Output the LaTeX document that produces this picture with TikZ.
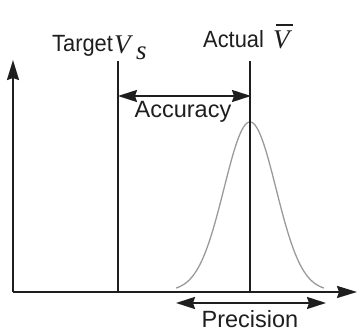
\documentclass[tikz,border=0pt]{standalone}
\usepackage{fontspec}
\setmainfont{Liberation Sans}
\newfontfamily\vfont{Liberation Serif}
\usetikzlibrary{arrows.meta}
\definecolor{ink}{HTML}{1E1E1E}
\definecolor{curvegray}{HTML}{9A9A9A}
\begin{document}
\begin{tikzpicture}[x=1pt,y=1pt,
  axisline/.style={draw=ink,line width=2pt},
  headtip/.style={-{Stealth[length=20pt,width=12pt,inset=2pt]}},
  twohead/.style={{Stealth[length=19pt,width=12pt,inset=2pt]}-{Stealth[length=19pt,width=12pt,inset=2pt]}},
  lbl/.style={inner sep=0pt,text=ink,font=\fontsize{23.5}{26}\selectfont},
  vlbl/.style={inner sep=0pt,text=ink,font=\vfont\itshape\fontsize{27}{30}\selectfont}]
\useasboundingbox (0,0) rectangle (357,328);
% coordinates
\coordinate (O) at (13,36);
\coordinate (Ytop) at (13,268);
\coordinate (Xend) at (357,36);
\coordinate (Tt) at (118,267);
\coordinate (Tb) at (118,36);
\coordinate (At) at (250,267);
\coordinate (Ab) at (250,36);
\coordinate (AccL) at (118,232);
\coordinate (AccR) at (251,232);
\coordinate (PreL) at (176,25);
\coordinate (PreR) at (326,25);
% gaussian
\draw[curvegray,line width=1.3pt,domain=-74:74,samples=120,smooth]
  plot (\x+250,{37+169*exp(-(\x*\x)/(2*26*26))});
% axes
\draw[axisline,headtip] (O) -- (Ytop);
\draw[axisline,headtip] (O) -- (Xend);
% vertical lines
\draw[axisline] (Tb) -- (Tt);
\draw[axisline] (Ab) -- (At);
% arrows
\draw[axisline,twohead] (AccL) -- (AccR);
\draw[axisline,twohead] (PreL) -- (PreR);
% labels
\node[lbl,anchor=base west] (tgt) at (52,276) {\scalebox{0.93}[1]{Target}};
\node[vlbl,anchor=base west] (vs) at (114,274) {V};
\node[vlbl,anchor=base west] (sub) at (136,268) {s};
\node[lbl,anchor=base west] (act) at (203,280) {\scalebox{0.93}[1]{Actual}};
\node[vlbl,anchor=base west] (vbar) at (273,279) {V};
\draw[ink,line width=1.6pt] (276,303) -- (293,303);
\node[lbl,anchor=base] (acc) at (183,210) {Accuracy};
\node[lbl,anchor=base] (pre) at (250,0.8) {Precision};
\end{tikzpicture}
\end{document}
